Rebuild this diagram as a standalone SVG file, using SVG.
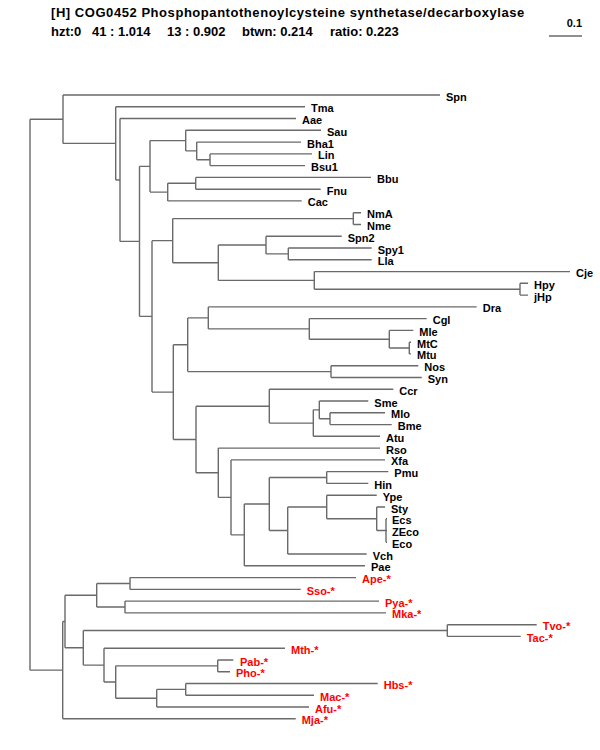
<svg xmlns="http://www.w3.org/2000/svg" width="600" height="750" viewBox="0 0 600 750">
<style>
.hd{font-family:"Liberation Sans",Arial,sans-serif;font-size:13px;font-weight:bold;fill:#000}
.lb{font-family:"Liberation Sans",Arial,sans-serif;font-size:11px;font-weight:bold;fill:#000}
.ar{fill:#ff0000}
.br{fill:none;stroke:#6a6a6a;stroke-width:1.4}
</style>
<rect width="600" height="750" fill="#fff"/>
<g id="header">
<text class="hd" x="51" y="17" letter-spacing="0.55">[H] COG0452 Phosphopantothenoylcysteine synthetase/decarboxylase</text>
<text class="hd" y="36"><tspan x="51">hzt:0</tspan><tspan x="92">41 : 1.014</tspan><tspan x="167">13 : 0.902</tspan><tspan x="242">btwn: 0.214</tspan><tspan x="330">ratio: 0.223</tspan></text>
</g>
<g id="scale">
<text class="lb" x="582" y="27" text-anchor="end">0.1</text>
<path class="br" d="M549,36H582"/>
</g>
<g id="connectors" class="br">
<path d="M30,119.2V670.15M30,119.2H63M30,670.15H62.7"/>
<path d="M63,95V143.4M63,95H440M63,143.4H115.7"/>
<path d="M115.7,106.8V179.95M115.7,106.8H305M115.7,179.95H120"/>
<path d="M120,118.5V241.4M120,118.5H296M120,241.4H139.5"/>
<path d="M139.5,166.35V316.4M139.5,166.35H150M139.5,316.4H152"/>
<path d="M150,140.6V192.1M150,140.6H185.7M150,192.1H167.7"/>
<path d="M185.7,130.3V150.9M185.7,130.3H321M185.7,150.9H196.7"/>
<path d="M196.7,142.1V159.75M196.7,142.1H301M196.7,159.75H210"/>
<path d="M210,153.9V165.6M210,153.9H312M210,165.6H305"/>
<path d="M167.7,183.3V200.9M167.7,183.3H195.7M167.7,200.9H301.7"/>
<path d="M195.7,177.4V189.2M195.7,177.4H371M195.7,189.2H320.7"/>
<path d="M152,240.65V392.1M152,240.65H172.7M152,392.1H173.3"/>
<path d="M172.7,218.6V262.7M172.7,218.6H353.3M172.7,262.7H218.3"/>
<path d="M353.3,212.7V224.5M353.3,212.7H361M353.3,224.5H361"/>
<path d="M218.3,245.05V280.4M218.3,245.05H266M218.3,280.4H314.3"/>
<path d="M266,236.2V253.9M266,236.2H341.7M266,253.9H288.3"/>
<path d="M288.3,248V259.8M288.3,248H371.7M288.3,259.8H371.7"/>
<path d="M314.3,271.6V289.2M314.3,271.6H570M314.3,289.2H520"/>
<path d="M520,283.3V295.1M520,283.3H528M520,295.1H528"/>
<path d="M173.3,344.75V439.5M173.3,344.75H187.7M173.3,439.5H196"/>
<path d="M187.7,317.9V371.6M187.7,317.9H208.3M187.7,371.6H331"/>
<path d="M208.3,306.9V328.9M208.3,306.9H476.7M208.3,328.9H309.3"/>
<path d="M309.3,318.6V339.2M309.3,318.6H426.7M309.3,339.2H389.3"/>
<path d="M389.3,330.4V348.05M389.3,330.4H413.3M389.3,348.05H409.3"/>
<path d="M409.3,342.2V353.9M409.3,342.2H411M409.3,353.9H411"/>
<path d="M331,365.7V377.5M331,365.7H418.3M331,377.5H421.7"/>
<path d="M196,406.2V472.75M196,406.2H269.3M196,472.75H218.3"/>
<path d="M269.3,389.3V423.1M269.3,389.3H393.3M269.3,423.1H313.3"/>
<path d="M313.3,409.85V436.3M313.3,409.85H319.3M313.3,436.3H380"/>
<path d="M319.3,401V418.7M319.3,401H368.3M319.3,418.7H330"/>
<path d="M330,412.8V424.6M330,412.8H385M330,424.6H391.7"/>
<path d="M218.3,448.1V497.4M218.3,448.1H380M218.3,497.4H231"/>
<path d="M231,459.9V534.9M231,459.9H385M231,534.9H244.3"/>
<path d="M244.3,504V565.8M244.3,504H269.3M244.3,565.8H365"/>
<path d="M269.3,477.5V530.5M269.3,477.5H326.7M269.3,530.5H287.7"/>
<path d="M326.7,471.6V483.4M326.7,471.6H388.3M326.7,483.4H368.3"/>
<path d="M287.7,507V554M287.7,507H326.7M287.7,554H366.7"/>
<path d="M326.7,495.2V518.75M326.7,495.2H376.7M326.7,518.75H376.7"/>
<path d="M376.7,507V530.5M376.7,507H385M376.7,530.5H386"/>
<path d="M386,518.7V542.3M386,518.7H387M386,530.5H387M386,542.3H387"/>
<path d="M62.7,621.5V718.8M62.7,621.5H65M62.7,718.8H295.7"/>
<path d="M65,595.25V647.8M65,595.25H96.7M65,647.8H83.3"/>
<path d="M96.7,583.5V607M96.7,583.5H130M96.7,607H125"/>
<path d="M130,577.6V589.4M130,577.6H356M130,589.4H300.7"/>
<path d="M125,601.1V612.9M125,601.1H379M125,612.9H386"/>
<path d="M83.3,630.55V665.1M83.3,630.55H447.3M83.3,665.1H104"/>
<path d="M447.3,624.7V636.4M447.3,624.7H536.7M447.3,636.4H520.7"/>
<path d="M104,648.2V682M104,648.2H285M104,682H115.7"/>
<path d="M115.7,665.85V698.2M115.7,665.85H217.7M115.7,698.2H156.7"/>
<path d="M217.7,660V671.7M217.7,660H233.3M217.7,671.7H230"/>
<path d="M156.7,689.4V707M156.7,689.4H185.7M156.7,707H309"/>
<path d="M185.7,683.5V695.3M185.7,683.5H377.7M185.7,695.3H314"/>
</g>
<g id="leaves" class="lb">
<g id="n-Spn"><text x="446" y="100.5">Spn</text></g>
<g id="n-Tma"><text x="311" y="112.3">Tma</text></g>
<g id="n-Aae"><text x="302" y="124">Aae</text></g>
<g id="n-Sau"><text x="327" y="135.8">Sau</text></g>
<g id="n-Bha1"><text x="307" y="147.6">Bha1</text></g>
<g id="n-Lin"><text x="318" y="159.4">Lin</text></g>
<g id="n-Bsu1"><text x="311" y="171.1">Bsu1</text></g>
<g id="n-Bbu"><text x="377" y="182.9">Bbu</text></g>
<g id="n-Fnu"><text x="326.7" y="194.7">Fnu</text></g>
<g id="n-Cac"><text x="307.7" y="206.4">Cac</text></g>
<g id="n-NmA"><text x="367" y="218.2">NmA</text></g>
<g id="n-Nme"><text x="367" y="230">Nme</text></g>
<g id="n-Spn2"><text x="347.7" y="241.7">Spn2</text></g>
<g id="n-Spy1"><text x="377.7" y="253.5">Spy1</text></g>
<g id="n-Lla"><text x="377.7" y="265.3">Lla</text></g>
<g id="n-Cje"><text x="576" y="277.1">Cje</text></g>
<g id="n-Hpy"><text x="534" y="288.8">Hpy</text></g>
<g id="n-jHp"><text x="534" y="300.6">jHp</text></g>
<g id="n-Dra"><text x="482.7" y="312.4">Dra</text></g>
<g id="n-Cgl"><text x="432.7" y="324.1">Cgl</text></g>
<g id="n-Mle"><text x="419.3" y="335.9">Mle</text></g>
<g id="n-MtC"><text x="417" y="347.7">MtC</text></g>
<g id="n-Mtu"><text x="417" y="359.4">Mtu</text></g>
<g id="n-Nos"><text x="424.3" y="371.2">Nos</text></g>
<g id="n-Syn"><text x="427.7" y="383">Syn</text></g>
<g id="n-Ccr"><text x="399.3" y="394.8">Ccr</text></g>
<g id="n-Sme"><text x="374.3" y="406.5">Sme</text></g>
<g id="n-Mlo"><text x="391" y="418.3">Mlo</text></g>
<g id="n-Bme"><text x="397.7" y="430.1">Bme</text></g>
<g id="n-Atu"><text x="386" y="441.8">Atu</text></g>
<g id="n-Rso"><text x="386" y="453.6">Rso</text></g>
<g id="n-Xfa"><text x="391" y="465.4">Xfa</text></g>
<g id="n-Pmu"><text x="394.3" y="477.1">Pmu</text></g>
<g id="n-Hin"><text x="374.3" y="488.9">Hin</text></g>
<g id="n-Ype"><text x="382.7" y="500.7">Ype</text></g>
<g id="n-Sty"><text x="391" y="512.5">Sty</text></g>
<g id="n-Ecs"><text x="392" y="524.2">Ecs</text></g>
<g id="n-ZEco"><text x="392" y="536">ZEco</text></g>
<g id="n-Eco"><text x="392" y="547.8">Eco</text></g>
<g id="n-Vch"><text x="372.7" y="559.5">Vch</text></g>
<g id="n-Pae"><text x="371" y="571.3">Pae</text></g>
<g id="n-Ape"><text class="ar" x="362" y="583.1">Ape-*</text></g>
<g id="n-Sso"><text class="ar" x="306.7" y="594.9">Sso-*</text></g>
<g id="n-Pya"><text class="ar" x="385" y="606.6">Pya-*</text></g>
<g id="n-Mka"><text class="ar" x="392" y="618.4">Mka-*</text></g>
<g id="n-Tvo"><text class="ar" x="542.7" y="630.2">Tvo-*</text></g>
<g id="n-Tac"><text class="ar" x="526.7" y="641.9">Tac-*</text></g>
<g id="n-Mth"><text class="ar" x="291" y="653.7">Mth-*</text></g>
<g id="n-Pab"><text class="ar" x="240" y="665.5">Pab-*</text></g>
<g id="n-Pho"><text class="ar" x="236" y="677.2">Pho-*</text></g>
<g id="n-Hbs"><text class="ar" x="383.7" y="689">Hbs-*</text></g>
<g id="n-Mac"><text class="ar" x="320" y="700.8">Mac-*</text></g>
<g id="n-Afu"><text class="ar" x="315" y="712.5">Afu-*</text></g>
<g id="n-Mja"><text class="ar" x="301.7" y="724.3">Mja-*</text></g>
</g>
</svg>
